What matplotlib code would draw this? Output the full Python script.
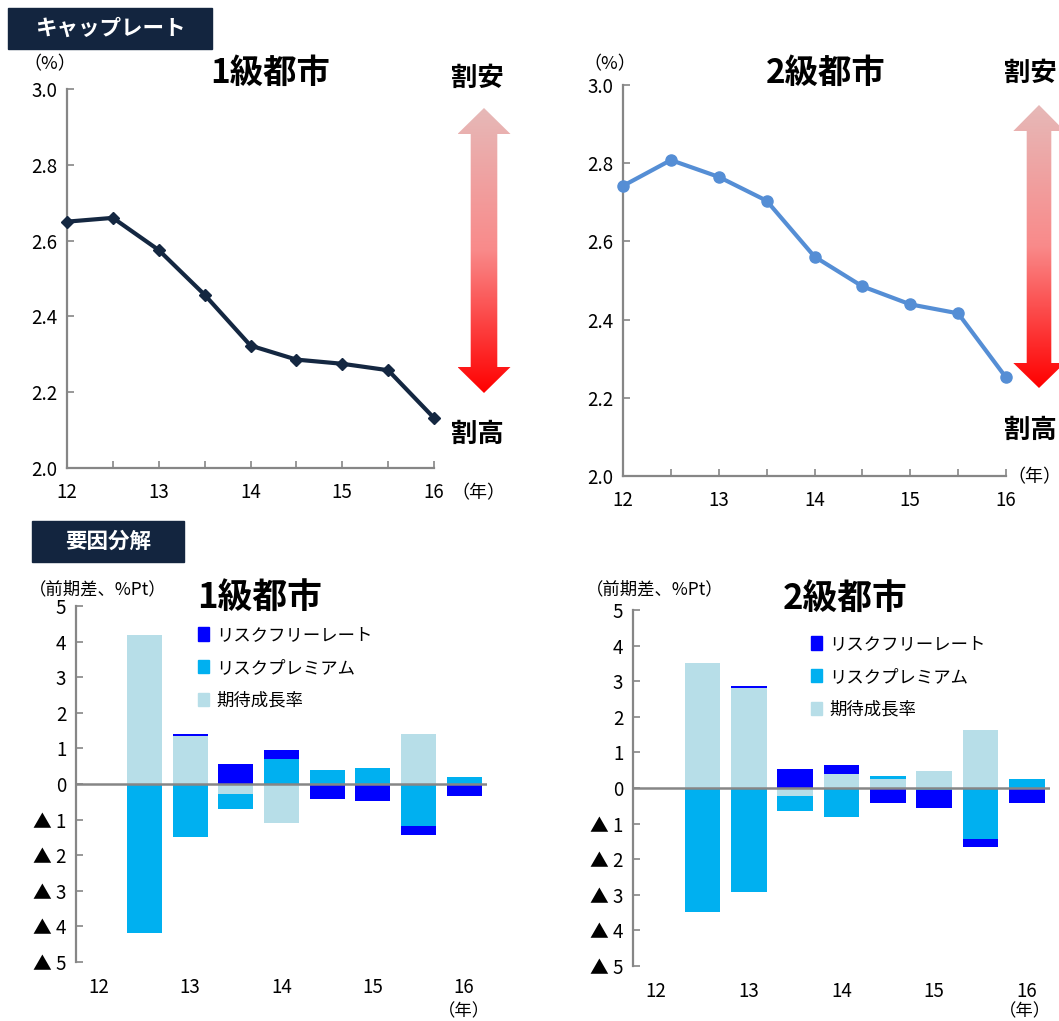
import numpy as np
import matplotlib.pyplot as plt
from matplotlib.patches import Rectangle, Polygon, Patch
from matplotlib.colors import LinearSegmentedColormap

plt.rcParams['font.family'] = ['Noto Sans CJK JP', 'DejaVu Sans']

# キャップレート（%）
years = [12, 12.5, 13, 13.5, 14, 14.5, 15, 15.5, 16]
cap_tier1 = [2.65, 2.66, 2.575, 2.457, 2.323, 2.286, 2.275, 2.258, 2.132]
cap_tier2 = [2.742, 2.808, 2.765, 2.704, 2.561, 2.485, 2.439, 2.416, 2.252]
year_labels = ['12', '', '13', '', '14', '', '15', '', '16']

# 要因分解（前期差、%Pt）
series_names = ['期待成長率', 'リスクプレミアム', 'リスクフリーレート']
series_colors = ['#B7DEE8', '#00B0F0', '#0000FF']
t1_growth = [0, 4.18, 1.35, -0.28, -1.09, 0, 0, 1.41, 0]
t1_premium = [0, -4.19, -1.50, -0.41, 0.69, 0.39, 0.44, -1.18, 0.21]
t1_riskfree = [0, 0, 0.05, 0.55, 0.26, -0.43, -0.47, -0.26, -0.35]
t2_growth = [0, 3.52, 2.81, -0.23, 0.38, 0.26, 0.49, 1.62, 0]
t2_premium = [0, -3.49, -2.91, -0.41, -0.81, 0.07, -0.05, -1.42, 0.24]
t2_riskfree = [0, 0, 0.05, 0.54, 0.27, -0.42, -0.50, -0.25, -0.42]
bar_ticks = ['12', '13', '14', '15', '16']
y_ticklabels = ['▲ 5', '▲ 4', '▲ 3', '▲ 2', '▲ 1', '0', '1', '2', '3', '4', '5']

W, H = 1059, 1021
fig = plt.figure(figsize=(W / 100, H / 100), dpi=100)
GRAY = '#868686'
TICK_FS = 13.5


def px_axes(x0, y0, x1, y1):
    return fig.add_axes([x0 / W, 1 - y1 / H, (x1 - x0) / W, (y1 - y0) / H])


def line_chart(ax, values, color, marker, ms):
    ax.plot(years, values, color=color, lw=3, marker=marker, ms=ms, clip_on=False, zorder=3)
    ax.set_xlim(12, 16)
    ax.set_ylim(2.0, 3.0)
    ax.set_yticks(np.arange(2.0, 3.01, 0.2))
    ax.set_yticklabels([f'{v:.1f}' for v in np.arange(2.0, 3.01, 0.2)])
    ax.set_xticks(years)
    ax.set_xticklabels(year_labels)
    for s in ['top', 'right']:
        ax.spines[s].set_visible(False)
    for s in ['left', 'bottom']:
        ax.spines[s].set_color(GRAY)
        ax.spines[s].set_linewidth(1.6)
    ax.tick_params(axis='both', direction='in', color=GRAY, width=1.2, length=5, labelsize=TICK_FS)
    ax.tick_params(axis='x', pad=10)
    ax.tick_params(axis='y', pad=7)


ax1 = px_axes(67, 89, 434, 468)
line_chart(ax1, cap_tier1, '#142741', 'D', 6)
ax2 = px_axes(623, 85, 1006, 476)
line_chart(ax2, cap_tier2, '#558ED5', 'o', 8)


def bar_chart(ax, growth, premium, riskfree):
    x = np.arange(len(growth))
    pos = np.zeros(len(x))
    neg = np.zeros(len(x))
    for vals, col, name in zip([growth, premium, riskfree], series_colors, series_names):
        v = np.array(vals, dtype=float)
        bottom = np.where(v >= 0, pos, neg)
        ax.bar(x, v, 0.77, bottom=bottom, color=col, label=name, zorder=2)
        pos = pos + np.where(v >= 0, v, 0)
        neg = neg + np.where(v < 0, v, 0)
    ax.axhline(0, color=GRAY, lw=1.8, zorder=3)
    ax.set_xlim(-0.5, 8.5)
    ax.set_ylim(-5, 5)
    ax.set_yticks(np.arange(-5, 6))
    ax.set_yticklabels(y_ticklabels)
    ax.set_xticks([0, 2, 4, 6, 8])
    ax.set_xticklabels(bar_ticks)
    for s in ['top', 'right', 'bottom']:
        ax.spines[s].set_visible(False)
    ax.spines['left'].set_color(GRAY)
    ax.spines['left'].set_linewidth(1.6)
    ax.tick_params(axis='y', direction='in', color=GRAY, width=1.2, length=5, labelsize=TICK_FS, pad=7)
    ax.tick_params(axis='x', length=0, labelsize=TICK_FS, pad=11)


ax3 = px_axes(76, 606, 487, 962)
bar_chart(ax3, t1_growth, t1_premium, t1_riskfree)
ax4 = px_axes(633, 610, 1050, 966)
bar_chart(ax4, t2_growth, t2_premium, t2_riskfree)

for ax, (lx, ly) in [(ax3, (198, 636)), (ax4, (811, 645))]:
    handles = [Patch(color=c) for c in series_colors[::-1]]
    ax.legend(handles, series_names[::-1], loc='upper left', bbox_to_anchor=(lx / W, 1 - (ly - 10) / H),
              bbox_transform=fig.transFigure, frameon=False, fontsize=12.5, handlelength=0.65,
              handleheight=0.8, handletextpad=0.4, labelspacing=0.85, borderpad=0, borderaxespad=0)

# overlay for labels, boxes and arrows (pixel coordinates)
ov = fig.add_axes([0, 0, 1, 1], zorder=10)
ov.set_xlim(0, W)
ov.set_ylim(H, 0)
ov.axis('off')

for (x0, y0, x1, y1, txt) in [(8, 8, 212, 49, 'キャップレート'), (32, 521, 184, 562, '要因分解')]:
    ov.add_patch(Rectangle((x0, y0), x1 - x0, y1 - y0, color='#13253F'))
    ov.text((x0 + x1) / 2, (y0 + y1) / 2, txt, color='white', fontsize=15.5, fontweight='bold',
            ha='center', va='center')

ov.text(270, 73, '1級都市', fontsize=24, fontweight='bold', ha='center', va='center')
ov.text(826, 73, '2級都市', fontsize=24, fontweight='bold', ha='center', va='center')
ov.text(260, 597, '1級都市', fontsize=25, fontweight='bold', ha='center', va='center')
ov.text(845, 598, '2級都市', fontsize=25, fontweight='bold', ha='center', va='center')

ov.text(50, 64, '（%）', fontsize=13, ha='center', va='center')
ov.text(610, 64, '（%）', fontsize=13, ha='center', va='center')
ov.text(478, 493, '（年）', fontsize=13, ha='center', va='center')
ov.text(1034, 477, '（年）', fontsize=13, ha='center', va='center')
ov.text(98, 589, '（前期差、%Pt）', fontsize=12.5, ha='center', va='center')
ov.text(655, 589, '（前期差、%Pt）', fontsize=12.5, ha='center', va='center')
ov.text(464, 1011, '（年）', fontsize=12.5, ha='center', va='center')
ov.text(1025, 1011, '（年）', fontsize=12.5, ha='center', va='center')

ov.text(477, 78, '割安', fontsize=19, fontweight='bold', ha='center', va='center')
ov.text(477, 434, '割高', fontsize=19, fontweight='bold', ha='center', va='center')
ov.text(1004, 73, '割安', fontsize=19, fontweight='bold', ha='left', va='center')
ov.text(1004, 430, '割高', fontsize=19, fontweight='bold', ha='left', va='center')

grad = LinearSegmentedColormap.from_list('arrow', ['#E6B9B8', '#F98A8A', '#FF0000'])


def double_arrow(cx, tip_top, base_top, base_bot, tip_bot, head_hw, shaft_hw):
    pts = [(cx, tip_top), (cx + head_hw, base_top), (cx + shaft_hw, base_top), (cx + shaft_hw, base_bot),
           (cx + head_hw, base_bot), (cx, tip_bot), (cx - head_hw, base_bot), (cx - shaft_hw, base_bot),
           (cx - shaft_hw, base_top), (cx - head_hw, base_top)]
    poly = Polygon(pts, closed=True, facecolor='none', edgecolor='none')
    ov.add_patch(poly)
    img = ov.imshow(np.linspace(0, 1, 256).reshape(-1, 1), cmap=grad, aspect='auto',
                    extent=(cx - head_hw, cx + head_hw, tip_bot, tip_top), zorder=1)
    img.set_clip_path(poly)


double_arrow(484, 108, 134, 367, 393, 26.5, 13.3)
double_arrow(1039, 105, 131, 363, 388, 25.7, 12.3)
ov.set_xlim(0, W)
ov.set_ylim(H, 0)

fig.savefig('out.png', dpi=100)
